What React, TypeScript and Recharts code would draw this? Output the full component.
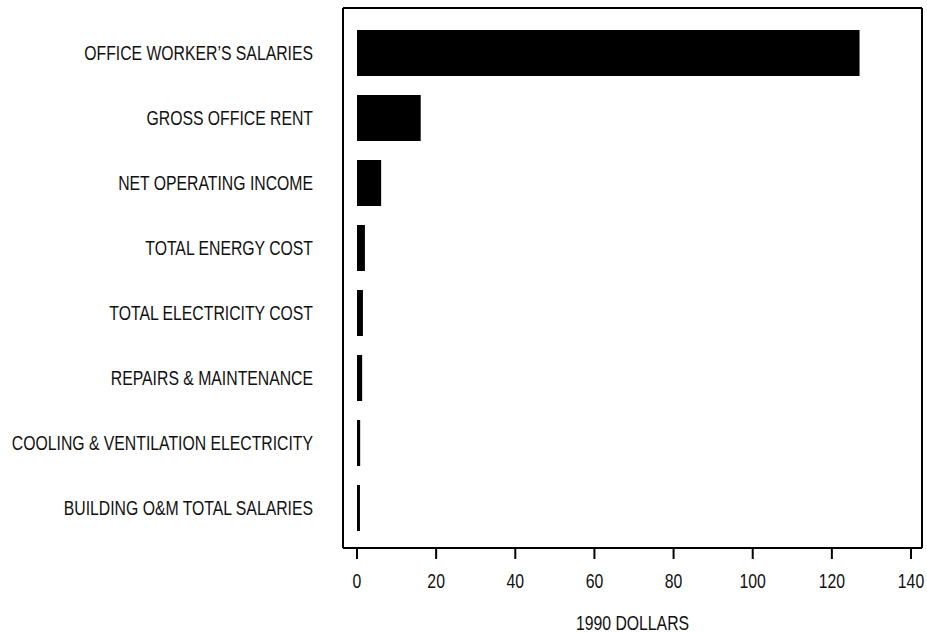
import { BarChart, Bar, XAxis, YAxis } from 'recharts';

const categories = [
  'OFFICE WORKER\u2019S SALARIES',
  'GROSS OFFICE RENT',
  'NET OPERATING INCOME',
  'TOTAL ENERGY COST',
  'TOTAL ELECTRICITY COST',
  'REPAIRS & MAINTENANCE',
  'COOLING & VENTILATION ELECTRICITY',
  'BUILDING O&M TOTAL SALARIES',
];

const dollars = [127, 16.1, 6.1, 2.0, 1.5, 1.3, 0.8, 0.75];

const xTicks = [0, 20, 40, 60, 80, 100, 120, 140];

const data = categories.map((name, i) => ({ name, value: dollars[i] }));

// narrow look: Liberation Sans squeezed horizontally
const font = '"Liberation Sans", Arial, sans-serif';
const squeeze = 0.77;
const fontSize = 20.5;
const ink = '#111';

function CategoryTick({ x, y, payload }: any) {
  return (
    <text
      transform={`translate(${x},${y}) scale(${squeeze},1)`}
      textAnchor="end"
      dy="0.355em"
      fontFamily={font}
      fontSize={fontSize}
      fill={ink}
    >
      {payload.value}
    </text>
  );
}

function ValueTick({ x, y, payload }: any) {
  return (
    <text
      transform={`translate(${x},${y}) scale(${squeeze},1)`}
      textAnchor="middle"
      dy="0.71em"
      fontFamily={font}
      fontSize={fontSize}
      fill={ink}
    >
      {payload.value}
    </text>
  );
}

function AxisTitle({ viewBox }: any) {
  const cx = viewBox.x + viewBox.width / 2;
  const by = viewBox.y + viewBox.height - 3;
  return (
    <text
      transform={`translate(${cx},${by}) scale(${squeeze},1)`}
      textAnchor="middle"
      fontFamily={font}
      fontSize={fontSize}
      fill={ink}
    >
      1990 DOLLARS
    </text>
  );
}

export default function App() {
  return (
    <div style={{ position: 'absolute', left: 0, top: 0, width: 927, height: 633, background: '#fff' }}>
      <BarChart
        width={927}
        height={633}
        data={data}
        layout="vertical"
        margin={{ top: 7, right: 4, bottom: 0, left: 0 }}
      >
        <XAxis
          xAxisId="bottom"
          type="number"
          domain={[0, 140]}
          ticks={xTicks}
          padding={{ left: 14, right: 11 }}
          height={85}
          tickSize={11}
          tickMargin={14}
          axisLine={{ stroke: '#000', strokeWidth: 2 }}
          tickLine={{ stroke: '#000', strokeWidth: 2 }}
          tick={<ValueTick />}
          label={{ content: <AxisTitle /> }}
        />
        <XAxis
          xAxisId="top"
          orientation="top"
          type="number"
          domain={[0, 140]}
          padding={{ left: 14, right: 11 }}
          height={1}
          tick={false}
          tickLine={false}
          axisLine={{ stroke: '#000', strokeWidth: 2 }}
        />
        <YAxis
          yAxisId="left"
          type="category"
          dataKey="name"
          width={343}
          padding={{ top: 12, bottom: 8 }}
          tickSize={0}
          tickMargin={30}
          tickLine={false}
          interval={0}
          axisLine={{ stroke: '#000', strokeWidth: 2 }}
          tick={<CategoryTick />}
        />
        <YAxis
          yAxisId="right"
          orientation="right"
          type="category"
          dataKey="name"
          width={1}
          padding={{ top: 12, bottom: 8 }}
          tick={false}
          tickLine={false}
          axisLine={{ stroke: '#000', strokeWidth: 2 }}
        />
        <Bar
          xAxisId="bottom"
          yAxisId="left"
          dataKey="value"
          fill="#000"
          barSize={46}
          isAnimationActive={false}
        />
      </BarChart>
    </div>
  );
}
